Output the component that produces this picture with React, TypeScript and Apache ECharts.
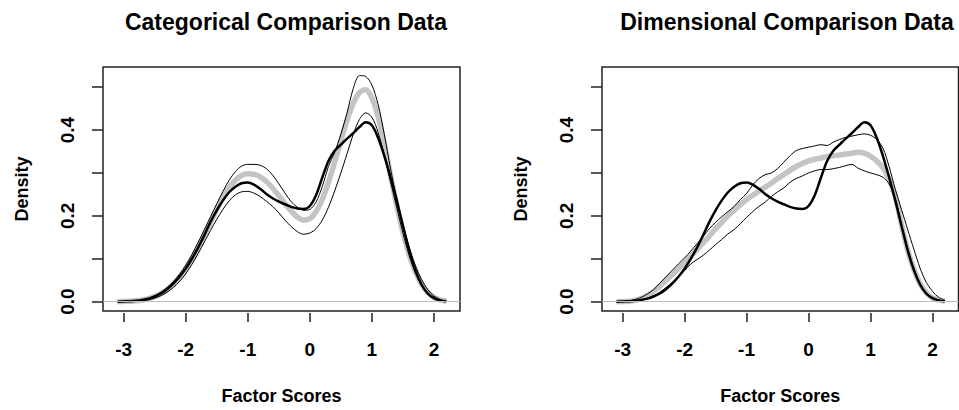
import React, { useEffect, useRef } from "react";
import * as echarts from "echarts";

// x grid of the density estimates
const xs = [
  -3.1, -3.0, -2.9, -2.8, -2.7, -2.6, -2.5, -2.4, -2.3, -2.2, -2.1, -2.0, -1.9, -1.8,
  -1.7, -1.6, -1.5, -1.4, -1.3, -1.2, -1.1, -1.0, -0.9, -0.8, -0.7, -0.6, -0.5, -0.4,
  -0.3, -0.2, -0.1, 0.0, 0.1, 0.2, 0.3, 0.4, 0.5, 0.6, 0.7, 0.8, 0.9, 1.0, 1.1, 1.2,
  1.3, 1.4, 1.5, 1.6, 1.7, 1.8, 1.9, 2.0, 2.1, 2.2,
];

// observed density (thick black, both panels)
const observed = [
  0, 0.0005, 0.001, 0.002, 0.004, 0.007, 0.012, 0.019, 0.029, 0.042, 0.058, 0.077, 0.1, 0.126,
  0.155, 0.186, 0.213, 0.236, 0.255, 0.268, 0.276, 0.278, 0.273, 0.263, 0.251, 0.241, 0.233, 0.227,
  0.221, 0.217, 0.216, 0.223, 0.248, 0.289, 0.328, 0.352, 0.366, 0.38, 0.393, 0.407, 0.418, 0.411,
  0.382, 0.34, 0.29, 0.236, 0.177, 0.12, 0.074, 0.04, 0.019, 0.008, 0.003, 0.001,
];

// categorical comparison data
const catMean = [
  0, 0.0005, 0.001, 0.002, 0.004, 0.007, 0.012, 0.019, 0.028, 0.04, 0.056, 0.076, 0.099, 0.126,
  0.155, 0.185, 0.215, 0.243, 0.266, 0.283, 0.294, 0.298, 0.297, 0.291, 0.28, 0.265, 0.247, 0.228,
  0.211, 0.197, 0.19, 0.193, 0.21, 0.238, 0.278, 0.325, 0.375, 0.423, 0.462, 0.488, 0.494, 0.475,
  0.432, 0.368, 0.295, 0.225, 0.162, 0.11, 0.07, 0.041, 0.022, 0.01, 0.004, 0.001,
];
const catUpper = [
  0, 0.0005, 0.001, 0.002, 0.004, 0.008, 0.014, 0.022, 0.033, 0.047, 0.064, 0.085, 0.11, 0.138,
  0.168, 0.198, 0.228, 0.257, 0.283, 0.303, 0.316, 0.32, 0.32, 0.318, 0.31, 0.295, 0.275, 0.253,
  0.233, 0.22, 0.213, 0.215, 0.232, 0.268, 0.315, 0.348, 0.39, 0.44, 0.497, 0.527, 0.525, 0.505,
  0.46, 0.39, 0.31, 0.24, 0.18, 0.128, 0.085, 0.052, 0.028, 0.013, 0.005, 0.001,
];
const catLower = [
  0, 0.0003, 0.0006, 0.001, 0.002, 0.004, 0.008, 0.014, 0.022, 0.033, 0.047, 0.065, 0.087, 0.112,
  0.139, 0.166, 0.192, 0.215, 0.235, 0.249, 0.256, 0.257, 0.253, 0.245, 0.234, 0.222, 0.207, 0.19,
  0.175, 0.163, 0.157, 0.16, 0.17, 0.19, 0.22, 0.258, 0.3, 0.345, 0.39, 0.425, 0.44, 0.43,
  0.395, 0.34, 0.28, 0.22, 0.16, 0.108, 0.067, 0.038, 0.019, 0.008, 0.003, 0.001,
];

// dimensional comparison data
const dimMean = [
  0, 0.0005, 0.001, 0.003, 0.007, 0.014, 0.024, 0.036, 0.05, 0.063, 0.077, 0.091, 0.106, 0.121,
  0.137, 0.153, 0.17, 0.185, 0.2, 0.213, 0.226, 0.238, 0.248, 0.258, 0.267, 0.276, 0.287, 0.296,
  0.306, 0.315, 0.322, 0.328, 0.332, 0.335, 0.338, 0.34, 0.342, 0.344, 0.346, 0.348, 0.346, 0.339,
  0.328, 0.312, 0.285, 0.245, 0.18, 0.12, 0.075, 0.042, 0.021, 0.009, 0.004, 0.001,
];
const dimUpper = [
  0, 0.001, 0.002, 0.005, 0.01, 0.018, 0.028, 0.043, 0.058, 0.073, 0.088, 0.102, 0.118, 0.135,
  0.152, 0.17, 0.185, 0.198, 0.21, 0.222, 0.238, 0.252, 0.272, 0.287, 0.296, 0.3, 0.31, 0.325,
  0.34, 0.352, 0.357, 0.36, 0.363, 0.366, 0.364, 0.372, 0.378, 0.383, 0.386, 0.389, 0.391, 0.388,
  0.378, 0.358, 0.315, 0.262, 0.215, 0.168, 0.122, 0.078, 0.045, 0.024, 0.01, 0.003,
];
const dimLower = [
  0, 0.0003, 0.0008, 0.002, 0.004, 0.008, 0.014, 0.022, 0.033, 0.045, 0.058, 0.072, 0.088, 0.098,
  0.108, 0.12, 0.133, 0.145, 0.158, 0.168, 0.182, 0.196, 0.21, 0.222, 0.232, 0.245, 0.256, 0.265,
  0.278, 0.287, 0.293, 0.3, 0.305, 0.308, 0.308, 0.31, 0.313, 0.317, 0.32, 0.311, 0.305, 0.3,
  0.296, 0.29, 0.275, 0.24, 0.18, 0.122, 0.075, 0.04, 0.019, 0.008, 0.003, 0.001,
];

const xTicks = [-3, -2, -1, 0, 1, 2];
const yTicks = [0, 0.1, 0.2, 0.3, 0.4, 0.5];
const yLabels = [0, 0.2, 0.4];
const titles = ["Categorical Comparison Data", "Dimensional Comparison Data"];
const xName = "Factor Scores";
const yName = "Density";

const X_MIN = -3.333;
const X_MAX = 2.42;
const Y_MIN = -0.0218;
const Y_MAX = 0.547;

const FONT = "'Liberation Sans', Arial, Helvetica, sans-serif";

const pairs = (ys: number[]) => xs.map((x, i) => [x, ys[i]]);

export default function App() {
  const ref = useRef<HTMLDivElement>(null);

  useEffect(() => {
    if (!ref.current) return;
    const chart = echarts.init(ref.current, null, { renderer: "svg" });

    const panels = [
      { mean: catMean, upper: catUpper, lower: catLower, left: 103, width: 357, titleX: 286 },
      { mean: dimMean, upper: dimUpper, lower: dimLower, left: 602, width: 356.5, titleX: 787 },
    ];

    const textBase = { color: "#000", fontFamily: FONT, fontWeight: "bold" as const };

    const grid = panels.map((p) => ({
      left: p.left,
      top: 67,
      width: p.width,
      height: 248,
      show: true,
      borderColor: "#222",
      borderWidth: 1.5,
      backgroundColor: "transparent",
    }));

    const xAxis = panels.map((p, i) => ({
      type: "value",
      gridIndex: i,
      position: "bottom",
      min: X_MIN,
      max: X_MAX,
      offset: 2,
      axisLine: { show: false, onZero: false },
      axisTick: { show: true, length: 9, customValues: xTicks, lineStyle: { color: "#222", width: 1.5 } },
      axisLabel: {
        customValues: xTicks,
        margin: 27,
        fontSize: 19,
        ...textBase,
        formatter: (v: number) => String(v),
      },
      splitLine: { show: false },
      name: xName,
      nameLocation: "middle",
      nameGap: 74,
      nameTextStyle: { fontSize: 18, ...textBase },
    }));

    const yAxis = panels.map((p, i) => ({
      type: "value",
      gridIndex: i,
      position: "left",
      min: Y_MIN,
      max: Y_MAX,
      axisLine: { show: false, onZero: false },
      axisTick: { show: true, length: 11, customValues: yTicks, lineStyle: { color: "#222", width: 1.5 } },
      axisLabel: {
        customValues: yLabels,
        rotate: 90,
        margin: 26,
        fontSize: 19,
        ...textBase,
        formatter: (v: number) => v.toFixed(1),
      },
      splitLine: { show: false },
      name: yName,
      nameLocation: "middle",
      nameGap: 72,
      nameTextStyle: { fontSize: 18, ...textBase },
    }));

    const series: any[] = [];
    panels.forEach((p, i) => {
      series.push({
        type: "line",
        xAxisIndex: i,
        yAxisIndex: i,
        data: pairs(p.mean),
        showSymbol: false,
        smooth: 0.3,
        lineStyle: { color: "#c4c4c4", width: 5.5 },
        markLine: {
          silent: true,
          symbol: ["none", "none"],
          label: { show: false },
          lineStyle: { color: "#bebebe", type: "solid", width: 1 },
          data: [{ yAxis: 0 }],
        },
        z: 2,
      });
      [p.upper, p.lower].forEach((ys) =>
        series.push({
          type: "line",
          xAxisIndex: i,
          yAxisIndex: i,
          data: pairs(ys),
          showSymbol: false,
          smooth: 0.3,
          lineStyle: { color: "#000", width: 1 },
          z: 3,
        })
      );
      series.push({
        type: "line",
        xAxisIndex: i,
        yAxisIndex: i,
        data: pairs(observed),
        showSymbol: false,
        smooth: 0.3,
        lineStyle: { color: "#000", width: 2.5 },
        z: 4,
      });
    });

    chart.setOption({
      animation: false,
      backgroundColor: "#fff",
      grid,
      xAxis,
      yAxis,
      series,
      graphic: panels.map((p, i) => ({
        type: "text",
        x: p.titleX,
        y: 22,
        style: {
          text: titles[i],
          textAlign: "center",
          textVerticalAlign: "middle",
          font: `bold 23px ${FONT}`,
          fill: "#000",
        },
      })),
    });

    return () => chart.dispose();
  }, []);

  return (
    <div
      ref={ref}
      style={{ position: "fixed", left: 0, top: 0, width: 959, height: 410, background: "#fff" }}
    />
  );
}
